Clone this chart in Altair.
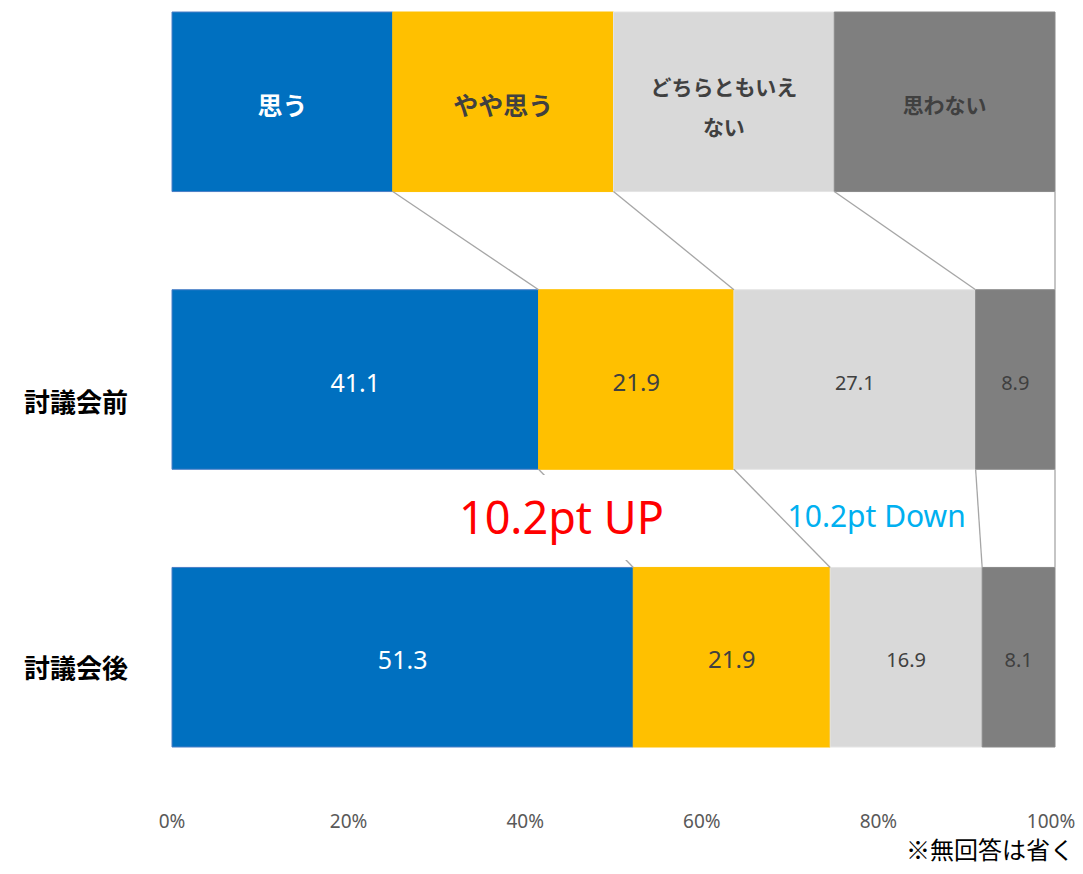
import altair as alt
import pandas as pd

# ---------------- data ----------------
categories = ["思う", "やや思う", "どちらともいえない", "思わない"]
header_labels = ["思う", "やや思う", "どちらともいえ\nない", "思わない"]
rows = ["討議会前", "討議会後"]
before = [41.1, 21.9, 27.1, 8.9]
after = [51.3, 21.9, 16.9, 8.1]
header_shares = [1, 1, 1, 1]
x_ticks = [0, 20, 40, 60, 80, 100]
annotations = ["10.2pt UP", "10.2pt Down"]
note = "※無回答は省く"

# ---------------- styles ----------------
fill_colors = ["#0070C0", "#FFC000", "#D9D9D9", "#7F7F7F"]
stroke_colors = ["#4A7EC6", "#FFC000", "#E4E4E4", "#8A8A8A"]
header_text_colors = ["#FFFFFF", "#404040", "#404040", "#404040"]
header_text_sizes = [25, 25, 21, 21]
header_text_dy = [5, 5, -13, 5]
value_text_colors = ["#FFFFFF", "#404040", "#404040", "#404040"]
value_text_sizes = [25, 24, 20, 20]
row_label_dy = [24, 13]
BAND = 0.6465  # bar thickness in row-step units

series = [header_shares, before, after]
recs = []
ends = []
for r, vals in enumerate(series):
    total = sum(vals)
    cum = 0.0
    row_ends = []
    for k, v in enumerate(vals):
        start = cum / total * 100
        cum += v
        end = cum / total * 100
        row_ends.append(end)
        recs.append(dict(row=r, cat=categories[k], value=v, hlabel=header_labels[k],
                         x0=start, x1=end, xm=(start + end) / 2,
                         y0=r, y1=r + BAND, ym=r + BAND / 2))
    ends.append(row_ends)
bars = pd.DataFrame(recs)

conn = []
for r in range(len(series) - 1):
    for k in range(len(categories)):
        conn.append(dict(xa=ends[r][k], xb=ends[r + 1][k], ya=r + BAND, yb=r + 1))
conn = pd.DataFrame(conn)

row_df = pd.DataFrame({"name": rows, "x": [0] * len(rows),
                       "y": [i + 1 + BAND / 2 for i in range(len(rows))]})
tick_df = pd.DataFrame({"v": x_ticks, "lab": [f"{t}%" for t in x_ticks],
                        "y": [2 + BAND] * len(x_ticks)})

xscale = alt.Scale(domain=[0, 100], nice=False, zero=False)
yscale = alt.Scale(domain=[0, 2 + BAND], nice=False, zero=False, reverse=True)


def X(f):
    return alt.X(f, scale=xscale, axis=None)


def Y(f):
    return alt.Y(f, scale=yscale, axis=None)


bar_layer = alt.Chart(bars).mark_rect(strokeWidth=1).encode(
    x=X("x0:Q"), x2="x1:Q", y=Y("y0:Q"), y2="y1:Q",
    color=alt.Color("cat:N", scale=alt.Scale(domain=categories, range=fill_colors), legend=None),
    stroke=alt.Stroke("cat:N", scale=alt.Scale(domain=categories, range=stroke_colors), legend=None),
)

connectors = alt.Chart(conn).mark_rule(color="#A6A6A6", strokeWidth=1.3).encode(
    x=X("xa:Q"), x2="xb:Q", y=Y("ya:Q"), y2="yb:Q",
)

up_box = alt.Chart(pd.DataFrame({"a": [31.5], "b": [56.6], "c": [1.667], "d": [1.973]})).mark_rect(
    color="white").encode(x=X("a:Q"), x2="b:Q", y=Y("c:Q"), y2="d:Q")

layers = [bar_layer, connectors, up_box]

for k, c in enumerate(categories):
    layers.append(
        alt.Chart(bars).transform_filter(f"datum.row == 0 && datum.cat == '{c}'").mark_text(
            font="Noto Sans CJK JP", fontWeight="bold", fontSize=header_text_sizes[k],
            color=header_text_colors[k], lineBreak="\n", lineHeight=40, dy=header_text_dy[k],
            align="center", baseline="middle").encode(
            x=X("xm:Q"), y=Y("ym:Q"), text="hlabel:N")
    )
    layers.append(
        alt.Chart(bars).transform_filter(f"datum.row > 0 && datum.cat == '{c}'").mark_text(
            font="Noto Sans", fontSize=value_text_sizes[k], color=value_text_colors[k],
            dy=4, align="center", baseline="middle").encode(
            x=X("xm:Q"), y=Y("ym:Q"), text=alt.Text("value:Q", format=".1f"))
    )

# row labels (category axis)
for i, name in enumerate(rows):
    layers.append(
        alt.Chart(row_df).transform_filter(f"datum.name == '{name}'").mark_text(
            font="Noto Sans CJK JP", fontWeight="bold", fontSize=26, color="#000000",
            align="right", baseline="middle", dx=-44, dy=row_label_dy[i]).encode(
            x=X("x:Q"), y=Y("y:Q"), text="name:N")
    )

# percent axis labels (last one nudged in so it stays inside the canvas)
tick_labels = alt.Chart(tick_df).transform_filter(f"datum.v < {x_ticks[-1]}").mark_text(
    font="Noto Sans", fontSize=19, color="#595959", align="center", baseline="middle",
    dy=75).encode(x=X("v:Q"), y=Y("y:Q"), text="lab:N")
tick_last = alt.Chart(tick_df).transform_filter(f"datum.v == {x_ticks[-1]}").mark_text(
    font="Noto Sans", fontSize=19, color="#595959", align="center", baseline="middle",
    dy=75, dx=-4).encode(x=X("v:Q"), y=Y("y:Q"), text="lab:N")

ann_df = pd.DataFrame({"t": annotations, "x": [44.1, 79.8], "y": [1.829, 1.822]})
ann_up = alt.Chart(ann_df.iloc[[0]]).mark_text(
    font="Noto Sans", fontSize=45, color="#FF0000", align="center", baseline="middle").encode(
    x=X("x:Q"), y=Y("y:Q"), text="t:N")
ann_down = alt.Chart(ann_df.iloc[[1]]).mark_text(
    font="Noto Sans", fontSize=30, color="#00B0F0", align="center", baseline="middle").encode(
    x=X("x:Q"), y=Y("y:Q"), text="t:N")

note_layer = alt.Chart(pd.DataFrame({"t": [note], "x": [100], "y": [3.025]})).mark_text(
    font="Noto Sans CJK JP", fontSize=24, color="#000000", align="right", baseline="middle",
    dx=19).encode(x=X("x:Q"), y=Y("y:Q"), text="t:N")

layers += [tick_labels, tick_last, ann_up, ann_down, note_layer]

chart = alt.layer(*layers).properties(
    width=883, height=735,
    autosize=alt.AutoSizeParams(type="none"),
    padding={"left": 164, "top": 4, "right": 20, "bottom": 119},
).configure_view(stroke=None)

chart.save("out.html", embed_options={"renderer": "svg", "actions": False})
